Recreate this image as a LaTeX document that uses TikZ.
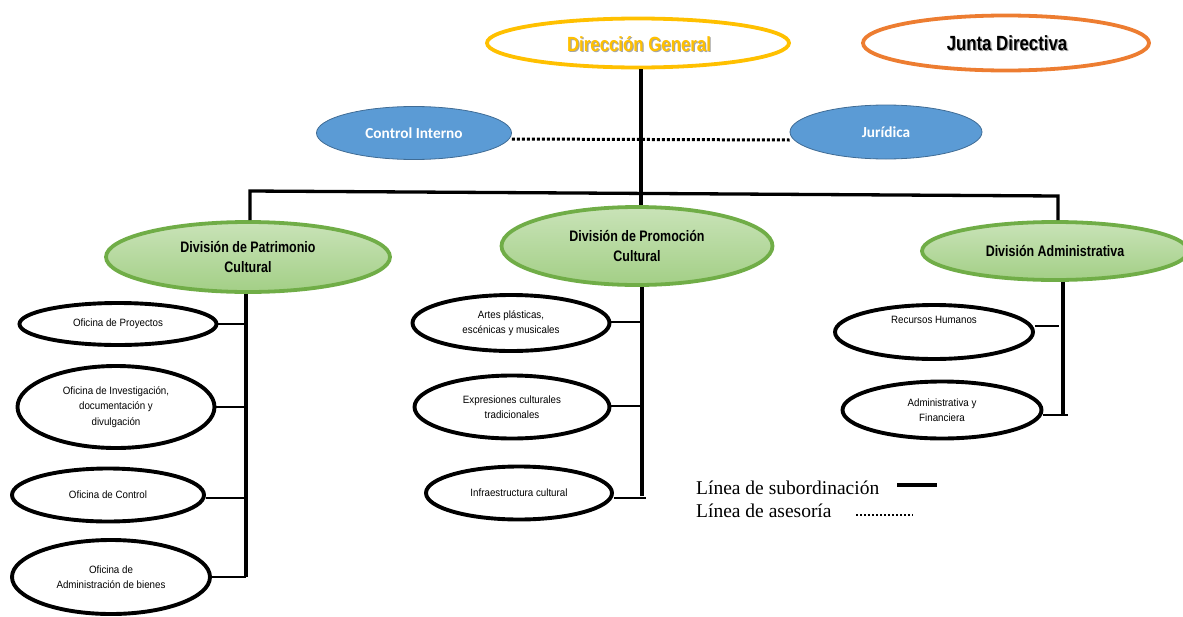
\documentclass[tikz,border=0pt]{standalone}
\usepackage{fontspec}
\setmainfont{Liberation Sans}
\newfontfamily\narrowbold[FakeStretch=0.82]{Liberation Sans Bold}
\newfontfamily\narrowreg[FakeStretch=0.92]{Liberation Sans}
\newfontfamily\calib{Carlito}
\newfontfamily\legserif{Liberation Serif}
\usetikzlibrary{shapes.geometric,calc}
\definecolor{dgyellow}{HTML}{FFC000}
\definecolor{jdorange}{HTML}{ED7D31}
\definecolor{ciblue}{HTML}{5B9BD5}
\definecolor{divgreen}{HTML}{70AD47}
\definecolor{divtop}{HTML}{C9E3B8}
\definecolor{divbot}{HTML}{A3CF86}
\tikzset{
  topell/.style={ellipse, draw, line width=3.8pt, fill=white, inner sep=0pt},
  toptext/.style={font=\narrowbold\fontsize{20.5}{22}\selectfont},
  blueell/.style={ellipse, draw=ciblue!70!black, line width=0.8pt, fill=ciblue, inner sep=0pt,
    text=white, font=\calib\bfseries\fontsize{15.3}{17}\selectfont},
  divell/.style={ellipse, draw=divgreen, line width=3.8pt, top color=divtop, bottom color=divbot,
    inner sep=0pt, align=center, font=\narrowbold\fontsize{15.2}{20}\selectfont},
  subell/.style={ellipse, draw=black, line width=3.9pt, fill=white, inner sep=0pt,
    align=center, font=\narrowreg\fontsize{10.6}{15.5}\selectfont},
  sub/.style={line width=3.3pt},
  tick/.style={line width=1.3pt},
  adv/.style={line width=3pt, dotted},
  legtext/.style={anchor=base west, inner sep=0pt, font=\legserif\fontsize{19.5}{22}\selectfont},
}
\begin{document}
\begin{tikzpicture}[x=1pt,y=-1pt]
\useasboundingbox (0,0) rectangle (1183,616);
% top
\node[topell, draw=dgyellow, minimum width=302pt, minimum height=49pt] (dg) at (638,43) {};
\node[text=gray!70, toptext] at (640.2,45.2) {Dirección General};
\node[text=dgyellow, toptext] (dgt) at (639,44) {Dirección General};
\node[topell, draw=jdorange, minimum width=286pt, minimum height=55pt] (jd) at (1006,43) {};
\node[text=gray!70, toptext] at (1008.2,44.2) {Junta Directiva};
\node[text=black, toptext] (jdt) at (1007,43) {Junta Directiva};
% advisory
\node[blueell, minimum width=195pt, minimum height=53pt] (ci) at (414,133) {Control Interno};
\node[blueell, minimum width=192pt, minimum height=54pt] (ju) at (886,132) {Jurídica};
% divisions
\node[divell, minimum width=284pt, minimum height=70pt] (pat) at (248,257) {División de Patrimonio\\Cultural};
\node[divell, minimum width=271pt, minimum height=78pt] (pro) at (637,246) {División de Promoción\\Cultural};
\node[divell, minimum width=266pt, minimum height=58pt] (adm) at (1055,251) {División Administrativa};
% connectors top
\coordinate (b1) at (250,191);
\coordinate (b2) at (641,193);
\coordinate (b3) at (1058,196);
\draw[adv] ($(ci.east)+(0,6)$) -- ($(ju.west)+(0,8)$);
\draw[sub] (dg.south -| b2) -- (b2) -- (pro.north -| b2);
\draw[sub, line join=miter] (pat.north -| b1) -- (b1) -- (b3) -- (adm.north -| b3);
% left column
\node[subell, minimum width=197pt, minimum height=42pt] (op) at (118,324) {Oficina de Proyectos};
\node[subell, minimum width=197pt, minimum height=82pt] (oi) at (116,407) {Oficina de Investigación,\\documentación y\\divulgación};
\node[subell, minimum width=192pt, minimum height=53pt] (oc) at (108,495) {Oficina de Control};
\node[subell, minimum width=198pt, minimum height=74pt] (oa) at (111,577) {Oficina de\\Administración de bienes};
\coordinate (lc) at (246,577);
\draw[sub] (pat.south -| lc) -- (lc);
\draw[tick] (op.east) -- (op.east -| lc);
\draw[tick] (oi.east) -- (oi.east -| lc);
\draw[tick] ($(oc.east)+(0,3)$) -- ($(oc.east -| lc)+(0,3)$);
\draw[tick] (oa.east) -- (oa.east -| lc);
% middle column
\node[subell, minimum width=197pt, minimum height=56pt] (ap) at (511,323) {Artes plásticas,\\escénicas y musicales};
\node[subell, minimum width=195pt, minimum height=63pt] (ec) at (512,407) {Expresiones culturales\\tradicionales};
\node[subell, minimum width=186pt, minimum height=53pt] (ic) at (519,493) {Infraestructura cultural};
\coordinate (mc) at (642,496);
\draw[sub] (pro.south -| mc) -- (mc);
\draw[tick] ($(ap.east)+(0,-1)$) -- ($(ap.east -| mc)+(0,-1)$);
\draw[tick] ($(ec.east)+(0,-1)$) -- ($(ec.east -| mc)+(0,-1)$);
\draw[tick] ($(ic.east)+(0,5)$) -- ($(ic.east -| mc)+(4,5)$);
% right column
\node[subell, minimum width=198pt, minimum height=54pt] (rh) at (934,332) {Recursos Humanos\\[8pt]};
\node[subell, minimum width=199pt, minimum height=57pt] (af) at (942,410) {Administrativa y\\Financiera};
\coordinate (rc) at (1063,415);
\draw[sub] (adm.south -| rc) -- (rc);
\draw[tick] ($(rh.east)+(0,-6)$) -- ($(rh.east -| rc)+(-4,-6)$);
\draw[tick] ($(af.east)+(0,5)$) -- ($(af.east -| rc)+(5,5)$);
% legend
\node[legtext] (l1) at (696,494) {Línea de subordinación};
\node[legtext] (l2) at (696,517) {Línea de asesoría};
\coordinate (s1) at (897,485);
\coordinate (s2) at (937,485);
\draw[sub] (s1) -- (s2);
\coordinate (d1) at (856,515);
\coordinate (d2) at (913,515);
\draw[line width=2pt, dotted] (d1) -- (d2);
\end{tikzpicture}
\end{document}
